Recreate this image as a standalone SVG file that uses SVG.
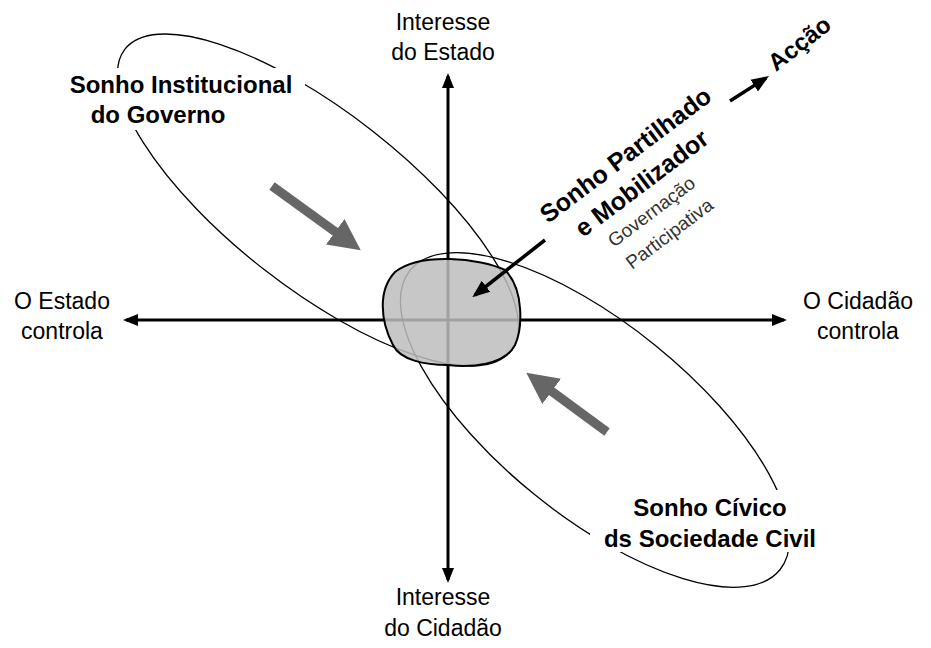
<svg xmlns="http://www.w3.org/2000/svg" width="931" height="648" viewBox="0 0 931 648">
<style>
text{font-family:"Liberation Sans",Arial,sans-serif;fill:#000}
.l{font-size:23px;text-anchor:middle}
.b{font-size:24px;font-weight:bold;text-anchor:middle}
.g{font-size:19px;fill:#333}
.ax{stroke:#000;stroke-width:3;fill:none}
.el{stroke:#000;stroke-width:1.3;fill:none}
</style>
<defs>
<marker id="ah" viewBox="0 0 10 10" refX="8" refY="5" markerWidth="5" markerHeight="5" orient="auto-start-reverse"><path d="M0,1 L10,5 L0,9 Z" fill="#000"/></marker>
<marker id="gh" viewBox="0 0 10 10" refX="5" refY="5" markerWidth="3.5" markerHeight="3.5" orient="auto"><path d="M0,0 L10,5 L0,10 Z" fill="#666"/></marker>
</defs>
<g id="connectors">
<line class="ax" x1="448" y1="580" x2="448" y2="76" marker-start="url(#ah)" marker-end="url(#ah)"/>
<line class="ax" x1="126" y1="320" x2="784" y2="320" marker-start="url(#ah)" marker-end="url(#ah)"/>
<ellipse class="el" cx="318" cy="200" rx="245" ry="88" transform="rotate(38 318 200)"/>
<ellipse class="el" cx="595" cy="420" rx="238" ry="96" transform="rotate(39 595 420)"/>
<line x1="272" y1="186" x2="348" y2="241" stroke="#666" stroke-width="9" marker-end="url(#gh)"/>
<line x1="607" y1="432" x2="539" y2="382" stroke="#666" stroke-width="9" marker-end="url(#gh)"/>
</g>
<g id="blob">
<path d="M395,272 C420,252 480,258 505,270 C525,290 522,330 515,345 C505,365 470,368 448,365 C425,365 400,360 393,345 C380,320 378,290 395,272 Z" fill="#bdbdbd" fill-opacity="0.85" stroke="#000" stroke-width="2"/>
</g>
<g id="connectors-top">
<line x1="545" y1="240" x2="475" y2="295" stroke="#000" stroke-width="3.5" marker-end="url(#ah)"/>
<line x1="730" y1="101" x2="766" y2="78" stroke="#000" stroke-width="3.5" marker-end="url(#ah)"/>
</g>
<g id="labels-bg">
<rect x="60" y="68" width="245" height="62" fill="#fff"/>
<rect x="590" y="490" width="240" height="62" fill="#fff"/>
</g>
<g id="axis-labels">
<text class="l" x="443" y="30">Interesse</text>
<text class="l" x="443" y="60">do Estado</text>
<text class="l" x="62" y="309">O Estado</text>
<text class="l" x="62" y="339">controla</text>
<text class="l" x="858" y="309">O Cidadão</text>
<text class="l" x="858" y="339">controla</text>
<text class="l" x="443" y="605">Interesse</text>
<text class="l" x="443" y="636">do Cidadão</text>
</g>
<g id="gov"><text class="b" x="181" y="93">Sonho Institucional</text><text class="b" x="158" y="123">do Governo</text></g>
<g id="civ"><text class="b" x="710" y="516">Sonho Cívico</text><text class="b" x="710" y="547">ds Sociedade Civil</text></g>
<g id="shared">
<text font-size="25" font-weight="bold" transform="translate(548,224) rotate(-37)">Sonho Partilhado</text>
<text font-size="25" font-weight="bold" transform="translate(583,238) rotate(-37)">e Mobilizador</text>
<text class="g" transform="translate(614,248) rotate(-37)">Governação</text>
<text class="g" transform="translate(632,270) rotate(-37)">Participativa</text>
</g>
<g id="accao"><text font-size="24" font-weight="bold" transform="translate(776,72) rotate(-38)">Acção</text></g>
</svg>
